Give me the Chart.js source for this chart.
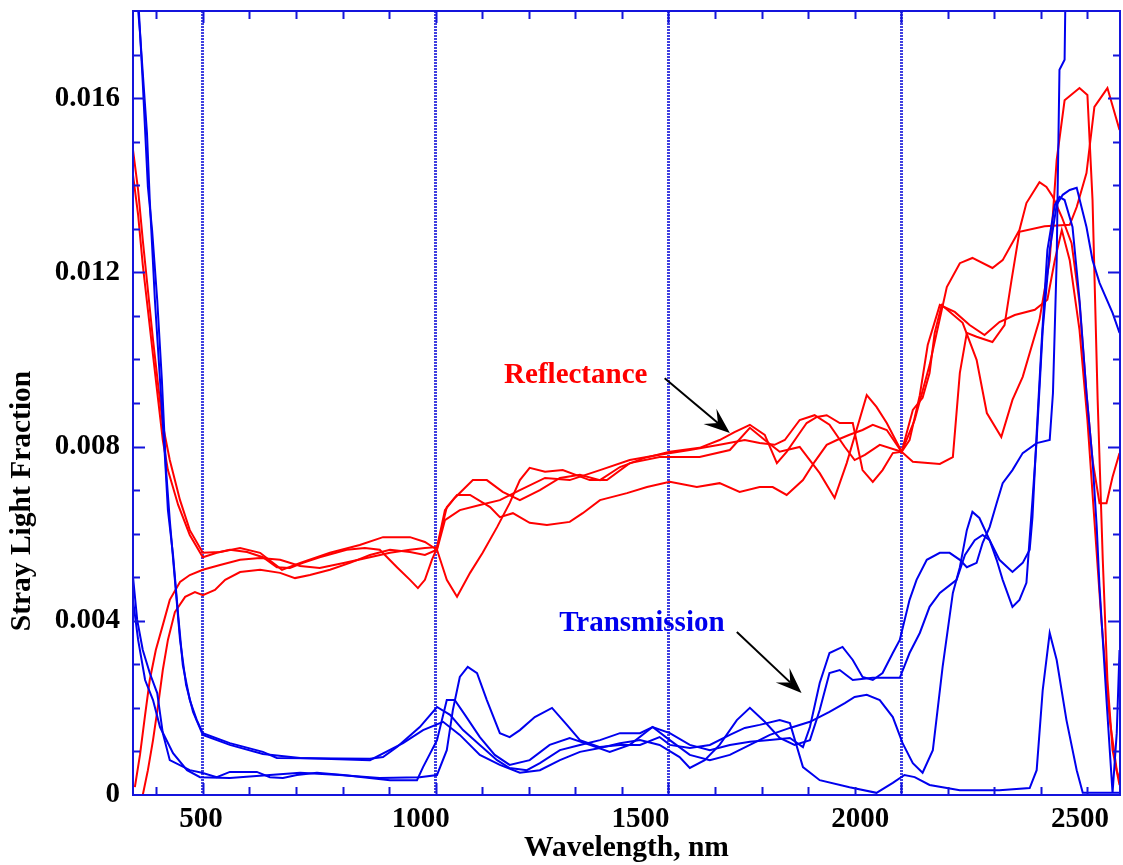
<!DOCTYPE html>
<html>
<head>
<meta charset="utf-8">
<script src="https://cdn.jsdelivr.net/npm/chart.js@4/dist/chart.umd.min.js"></script>
<style>
  html, body { margin: 0; padding: 0; background: #ffffff; }
  #wrap { width: 1123px; height: 865px; }
</style>
</head>
<body>
<div id="wrap"><canvas id="strayChart" width="1123" height="865"></canvas></div>
<script>
// Wavelength (nm) / stray light fraction pairs
const reflectance1 = [[350,0.01481],[361,0.01389],[371,0.01274],[382,0.01159],[393,0.01045],[404,0.00941],[414,0.0085],[429,0.00769],[451,0.00677],[472,0.00608],[500,0.00556],[537,0.00558],[580,0.00567],[623,0.00556],[670,0.00517],[709,0.00533],[773,0.00556],[837,0.00574],[887,0.00592],[945,0.00592],[977,0.00581],[1003,0.00563],[1024,0.00494],[1046,0.00455],[1074,0.0051],[1101,0.00556],[1132,0.00615],[1159,0.0067],[1181,0.00723],[1202,0.00751],[1235,0.00742],[1273,0.00746],[1331,0.00723],[1368,0.00723],[1417,0.00762],[1481,0.00776],[1567,0.00776],[1632,0.00792],[1675,0.00843],[1707,0.00815],[1739,0.00788],[1782,0.00799],[1825,0.00739],[1857,0.00682],[1883,0.00762],[1904,0.00838],[1926,0.00918],[1947,0.00891],[1969,0.00854],[2001,0.00788],[2025,0.00884],[2046,0.00912],[2061,0.00969],[2072,0.01061],[2087,0.01125],[2132,0.01084],[2162,0.00999],[2184,0.00877],[2215,0.00822],[2239,0.00907],[2261,0.0096],[2297,0.01091],[2319,0.01228],[2334,0.01458],[2351,0.01595],[2383,0.01623],[2400,0.01607],[2411,0.01366],[2422,0.00907],[2433,0.0054],[2443,0.00264],[2454,0.00103],[2469,0.00023]];

const reflectance2 = [[350,0.01424],[361,0.01332],[371,0.01217],[382,0.01114],[393,0.0101],[404,0.00907],[414,0.00815],[425,0.00746],[447,0.00666],[472,0.00597],[500,0.00546],[530,0.00556],[558,0.00563],[595,0.00558],[629,0.00546],[659,0.00523],[687,0.00521],[715,0.00533],[751,0.00546],[809,0.00563],[848,0.00567],[880,0.00563],[917,0.00523],[945,0.00494],[962,0.00475],[977,0.00494],[992,0.0054],[1003,0.00567],[1024,0.00661],[1046,0.00689],[1074,0.00689],[1117,0.00661],[1138,0.00638],[1166,0.00647],[1202,0.00625],[1239,0.0062],[1288,0.00627],[1316,0.00647],[1353,0.00677],[1411,0.00693],[1454,0.00707],[1503,0.00719],[1561,0.00707],[1610,0.00716],[1653,0.00696],[1696,0.00707],[1724,0.00707],[1754,0.00689],[1789,0.00723],[1814,0.00765],[1840,0.00804],[1862,0.00815],[1889,0.00827],[1917,0.00838],[1939,0.0085],[1969,0.00838],[2001,0.00788],[2029,0.00861],[2061,0.00987],[2098,0.01166],[2126,0.01221],[2153,0.01233],[2196,0.0121],[2218,0.01228],[2254,0.01297],[2269,0.01359],[2297,0.01407],[2312,0.01396],[2326,0.01373],[2345,0.01327],[2366,0.01267],[2383,0.0113],[2398,0.00923],[2411,0.00769],[2426,0.0067],[2441,0.0067],[2454,0.0073],[2469,0.00785]];

const reflectance3 = [[354,0.00018],[365,0.00092],[376,0.00184],[386,0.00264],[399,0.00333],[414,0.0039],[429,0.00448],[451,0.00489],[472,0.00505],[500,0.00517],[537,0.00528],[580,0.0054],[623,0.00544],[666,0.0054],[709,0.00526],[751,0.00521],[805,0.00533],[859,0.00546],[902,0.00556],[945,0.00563],[977,0.00567],[1003,0.00569],[1020,0.00654],[1041,0.00682],[1080,0.00723],[1110,0.00723],[1144,0.00696],[1181,0.00677],[1224,0.007],[1267,0.00728],[1310,0.00735],[1353,0.00723],[1396,0.00753],[1449,0.00774],[1503,0.00788],[1567,0.00797],[1610,0.00815],[1642,0.00833],[1675,0.0085],[1707,0.00827],[1733,0.00762],[1754,0.00788],[1776,0.00822],[1797,0.00854],[1819,0.00868],[1840,0.00872],[1868,0.00854],[1896,0.00854],[1917,0.00746],[1939,0.00719],[1960,0.00746],[1982,0.00785],[2001,0.00788],[2025,0.00765],[2083,0.0076],[2111,0.00776],[2126,0.00969],[2141,0.01061],[2162,0.01052],[2196,0.0104],[2222,0.01079],[2237,0.01182],[2254,0.01293],[2308,0.01306],[2362,0.01309],[2377,0.0135],[2398,0.01428],[2415,0.0158],[2443,0.01623],[2469,0.01527]];

const reflectance4 = [[371,0],[382,0.00057],[393,0.00126],[404,0.00207],[414,0.00287],[425,0.00356],[440,0.0042],[462,0.00455],[483,0.00466],[500,0.00459],[526,0.00471],[548,0.00494],[580,0.00512],[623,0.00517],[666,0.0051],[698,0.00498],[730,0.00505],[773,0.00517],[816,0.00533],[859,0.00551],[902,0.00563],[945,0.00558],[977,0.00551],[1003,0.00563],[1020,0.00631],[1052,0.00654],[1095,0.00666],[1138,0.00677],[1181,0.007],[1235,0.00728],[1288,0.00723],[1353,0.00746],[1417,0.00769],[1481,0.00781],[1546,0.00792],[1610,0.00804],[1664,0.00815],[1696,0.00808],[1728,0.00804],[1750,0.00815],[1782,0.00861],[1814,0.00872],[1846,0.0085],[1879,0.00799],[1900,0.00769],[1922,0.00781],[1954,0.00804],[2001,0.00788],[2018,0.00815],[2040,0.00918],[2057,0.01033],[2083,0.01125],[2115,0.01109],[2147,0.01079],[2179,0.01056],[2211,0.01086],[2244,0.01102],[2287,0.01114],[2314,0.01137],[2330,0.01228],[2345,0.01297],[2362,0.01228],[2383,0.01068],[2400,0.00861],[2415,0.00631],[2430,0.00402],[2448,0.00172],[2463,0.00057],[2469,0.00034]];

const transmission1 = [[350,0.0195],[365,0.0175],[380,0.0152],[386,0.01366],[397,0.01137],[408,0.00953],[419,0.00769],[425,0.00654],[436,0.00551],[447,0.00413],[457,0.00298],[472,0.00218],[487,0.00172],[500,0.00142],[558,0.00119],[629,0.00099],[659,0.00085],[859,0.00083],[887,0.00087],[917,0.0011],[966,0.00156],[1003,0.00202],[1031,0.00184],[1059,0.00149],[1095,0.00115],[1132,0.0008],[1159,0.00062],[1196,0.00057],[1224,0.00073],[1267,0.00103],[1310,0.00115],[1353,0.00126],[1396,0.00142],[1439,0.00142],[1466,0.00156],[1503,0.00142],[1546,0.00115],[1589,0.00103],[1632,0.00115],[1675,0.00122],[1718,0.00126],[1761,0.00131],[1789,0.0011],[1804,0.00156],[1825,0.00257],[1846,0.00326],[1874,0.0034],[1896,0.0031],[1917,0.00271],[1939,0.00264],[1960,0.0028],[1982,0.00326],[1997,0.00356],[2018,0.00448],[2033,0.00494],[2055,0.0054],[2083,0.00556],[2104,0.00556],[2126,0.0054],[2141,0.00523],[2162,0.00533],[2175,0.00579],[2190,0.00615],[2205,0.0067],[2218,0.00716],[2239,0.00746],[2261,0.00785],[2291,0.00808],[2319,0.00815],[2326,0.00923],[2330,0.01075],[2334,0.01228],[2336,0.01382],[2340,0.01665],[2351,0.01688],[2353,0.0185],[2400,0.02],[2469,0.02]];

const transmission2 = [[350,0.0205],[371,0.01635],[382,0.01396],[391,0.01297],[402,0.01137],[412,0.00953],[421,0.00746],[429,0.00631],[440,0.00494],[451,0.00356],[464,0.00253],[479,0.00191],[500,0.00138],[558,0.00115],[629,0.00094],[709,0.00085],[859,0.0008],[930,0.00119],[973,0.00149],[1016,0.00168],[1052,0.00138],[1095,0.00092],[1138,0.00069],[1181,0.00051],[1224,0.00057],[1267,0.0008],[1310,0.00099],[1353,0.00108],[1396,0.00119],[1439,0.00126],[1481,0.00115],[1524,0.00087],[1546,0.00062],[1578,0.0008],[1610,0.00115],[1647,0.00172],[1675,0.002],[1707,0.00168],[1739,0.00131],[1771,0.00115],[1804,0.00126],[1825,0.00195],[1846,0.0028],[1868,0.00287],[1896,0.00264],[1939,0.00269],[1997,0.00269],[2018,0.00326],[2040,0.00372],[2061,0.00432],[2083,0.00464],[2119,0.00494],[2137,0.00551],[2158,0.00585],[2175,0.00597],[2190,0.00585],[2205,0.0054],[2218,0.00494],[2239,0.00432],[2254,0.00448],[2269,0.00487],[2282,0.00677],[2291,0.00815],[2304,0.01068],[2319,0.01251],[2334,0.01355],[2347,0.01378],[2362,0.01389],[2377,0.01394],[2398,0.01304],[2411,0.01228],[2426,0.01176],[2454,0.01107],[2469,0.01061]];

const transmission3 = [[350,0.00501],[359,0.00402],[371,0.00333],[386,0.0028],[402,0.00234],[414,0.00142],[429,0.0008],[472,0.00057],[498,0.00051],[530,0.00041],[558,0.00053],[616,0.00053],[644,0.00041],[672,0.00039],[702,0.00046],[745,0.00051],[801,0.00046],[844,0.00041],[902,0.00034],[960,0.00034],[973,0.00064],[1003,0.00126],[1024,0.00218],[1041,0.00218],[1063,0.00184],[1095,0.00133],[1127,0.00092],[1159,0.00069],[1202,0.0008],[1245,0.00115],[1288,0.00131],[1331,0.00115],[1374,0.00099],[1417,0.00115],[1466,0.00156],[1503,0.00126],[1546,0.00092],[1589,0.0008],[1632,0.00092],[1675,0.00115],[1718,0.00138],[1761,0.00154],[1804,0.00168],[1846,0.00191],[1879,0.00211],[1900,0.00225],[1926,0.0023],[1954,0.00218],[1982,0.00179],[2003,0.00119],[2025,0.00073],[2046,0.00051],[2068,0.00103],[2089,0.00294],[2111,0.00464],[2126,0.00523],[2141,0.00608],[2153,0.0065],[2168,0.00636],[2190,0.00585],[2211,0.0054],[2239,0.00512],[2261,0.00533],[2276,0.00563],[2282,0.00638],[2291,0.00831],[2302,0.01045],[2314,0.01251],[2330,0.01355],[2340,0.01373],[2351,0.01366],[2368,0.01304],[2383,0.01137],[2398,0.00923],[2411,0.00769],[2420,0.00615],[2426,0.00478],[2441,0.00218],[2454,0.00005],[2463,0.00142],[2469,0.00333]];

const transmission4 = [[350,0.00448],[361,0.00356],[376,0.00264],[393,0.00218],[408,0.00156],[436,0.00096],[466,0.00057],[494,0.00041],[558,0.00039],[644,0.00046],[709,0.00051],[794,0.00046],[880,0.00039],[966,0.00041],[1003,0.00046],[1024,0.00103],[1037,0.00195],[1052,0.00271],[1069,0.00294],[1089,0.0028],[1110,0.00218],[1138,0.00142],[1159,0.00133],[1181,0.00149],[1213,0.00179],[1250,0.002],[1282,0.00161],[1310,0.00126],[1353,0.0011],[1396,0.00115],[1439,0.00115],[1481,0.00133],[1503,0.00115],[1546,0.00108],[1589,0.00115],[1632,0.00138],[1664,0.00154],[1696,0.00161],[1739,0.00172],[1761,0.00165],[1789,0.00064],[1825,0.00034],[1889,0.00018],[1947,0.00005],[1982,0.00028],[2007,0.00046],[2029,0.00041],[2061,0.00023],[2126,0.00011],[2211,0.00011],[2276,0.00016],[2291,0.00057],[2304,0.00241],[2319,0.00372],[2334,0.0031],[2355,0.00172],[2377,0.00057],[2390,0.00005],[2469,0.00005]];

// Axes
const xRange = [350, 2470];          // wavelength range of the plotted data
const xGridValues = [500, 1000, 1500, 2000];
const xTickLabels = [500, 1000, 1500, 2000, 2500];
const xLabelRange = [345, 2591];     // range of the printed wavelength labels
const yRange = [0, 0.018];
const yTickValues = [0, 0.004, 0.008, 0.012, 0.016];
const xMinorStep = 100;
const yMinorStep = 0.001;
const yTitle = 'Stray Light Fraction';
const yTitleAt = 0.00675;            // value at which the rotated title is centred

const RED = '#ff0000';
const BLUE = '#0000ee';
const AXIS_BLUE = '#1414dc';
const SERIF = '"Liberation Serif", "Times New Roman", serif';

function toPoints(pairs) {
    return pairs.map(p => ({ x: p[0], y: p[1] }));
}

function lineSet(label, pairs, color) {
    return {
        label: label,
        data: toPoints(pairs),
        borderColor: color,
        backgroundColor: color,
        borderWidth: 2,
        pointRadius: 0,
        tension: 0,
        fill: false,
        xAxisID: 'x',
        yAxisID: 'y'
    };
}

// Frame and inward tick marks on all four sides
const frameTicks = {
    id: 'frameTicks',
    afterDatasetsDraw(chart) {
        const { ctx, chartArea: a, scales } = chart;
        const xs = scales.x, ys = scales.y;
        ctx.save();
        ctx.strokeStyle = AXIS_BLUE;
        ctx.lineWidth = 2;
        ctx.beginPath();
        for (let v = 400; v <= 2400; v += xMinorStep) {
            const px = Math.round(xs.getPixelForValue(v)) + 0.5;
            const len = v % 500 === 0 ? 12 : 8;
            ctx.moveTo(px, a.bottom); ctx.lineTo(px, a.bottom - len);
            ctx.moveTo(px, a.top); ctx.lineTo(px, a.top + len);
        }
        for (let i = 1; i <= 17; i++) {
            const py = Math.round(ys.getPixelForValue(i * yMinorStep)) + 0.5;
            const len = i % 4 === 0 ? 12 : 7;
            ctx.moveTo(a.left, py); ctx.lineTo(a.left + len, py);
            ctx.moveTo(a.right, py); ctx.lineTo(a.right - len, py);
        }
        ctx.stroke();
        ctx.strokeRect(a.left, a.top, a.right - a.left, a.bottom - a.top);
        ctx.restore();
    }
};

// Text labels with arrows, placed in data coordinates
const notes = [
    { text: 'Reflectance', color: RED, at: [1301, 0.00962], from: [1492, 0.00957], to: [1632, 0.00831] },
    { text: 'Transmission', color: BLUE, at: [1443, 0.00393], from: [1647, 0.00374], to: [1786, 0.00234] }
];

function drawArrow(ctx, x1, y1, x2, y2) {
    const dx = x2 - x1, dy = y2 - y1;
    const d = Math.sqrt(dx * dx + dy * dy);
    const ux = dx / d, uy = dy / d;
    const nx = -uy, ny = ux;
    const L = 26, W = 10;
    ctx.beginPath();
    ctx.moveTo(x1, y1);
    ctx.lineTo(x2 - ux * L * 0.6, y2 - uy * L * 0.6);
    ctx.stroke();
    ctx.beginPath();
    ctx.moveTo(x2, y2);
    ctx.lineTo(x2 - ux * L + nx * W, y2 - uy * L + ny * W);
    ctx.lineTo(x2 - ux * L * 0.6, y2 - uy * L * 0.6);
    ctx.lineTo(x2 - ux * L - nx * W, y2 - uy * L - ny * W);
    ctx.closePath();
    ctx.fill();
}

const annotations = {
    id: 'annotations',
    afterDraw(chart) {
        const { ctx, scales } = chart;
        const xs = scales.x, ys = scales.y;
        ctx.save();
        notes.forEach(n => {
            ctx.font = 'bold 29px ' + SERIF;
            ctx.fillStyle = n.color;
            ctx.textAlign = 'center';
            ctx.textBaseline = 'middle';
            ctx.fillText(n.text, xs.getPixelForValue(n.at[0]), ys.getPixelForValue(n.at[1]));
            ctx.strokeStyle = '#000000';
            ctx.fillStyle = '#000000';
            ctx.lineWidth = 2;
            drawArrow(ctx,
                xs.getPixelForValue(n.from[0]), ys.getPixelForValue(n.from[1]),
                xs.getPixelForValue(n.to[0]), ys.getPixelForValue(n.to[1]));
        });
        // rotated y axis title
        ctx.translate(ys.left + 22, ys.getPixelForValue(yTitleAt));
        ctx.rotate(-Math.PI / 2);
        ctx.font = 'bold 29.5px ' + SERIF;
        ctx.fillStyle = '#000000';
        ctx.textAlign = 'center';
        ctx.textBaseline = 'middle';
        ctx.fillText(yTitle, 0, 0);
        ctx.restore();
    }
};

document.addEventListener('DOMContentLoaded', function() {
    const ctx = document.getElementById('strayChart');

    new Chart(ctx, {
        type: 'line',
        data: {
            datasets: [
                lineSet('Transmission 1', transmission1, BLUE),
                lineSet('Transmission 2', transmission2, BLUE),
                lineSet('Transmission 3', transmission3, BLUE),
                lineSet('Transmission 4', transmission4, BLUE),
                lineSet('Reflectance 1', reflectance1, RED),
                lineSet('Reflectance 2', reflectance2, RED),
                lineSet('Reflectance 3', reflectance3, RED),
                lineSet('Reflectance 4', reflectance4, RED)
            ]
        },
        options: {
            responsive: false,
            animation: false,
            events: [],
            layout: { autoPadding: false, padding: { top: 11, right: 3, left: 0, bottom: 0 } },
            plugins: {
                legend: { display: false },
                tooltip: { enabled: false }
            },
            scales: {
                x: {
                    type: 'linear',
                    position: 'bottom',
                    min: xRange[0],
                    max: xRange[1],
                    afterBuildTicks: s => { s.ticks = xGridValues.map(v => ({ value: v })); },
                    afterFit: s => { s.height = 0; s.paddingLeft = 0; s.paddingRight = 0; },
                    ticks: { display: false },
                    grid: { display: true, drawTicks: false, color: '#4040e0', lineWidth: 3 },
                    border: { display: false, dash: [2, 1] }
                },
                xLabels: {
                    type: 'linear',
                    position: 'bottom',
                    min: xLabelRange[0],
                    max: xLabelRange[1],
                    afterBuildTicks: s => { s.ticks = xTickLabels.map(v => ({ value: v })); },
                    afterFit: s => { s.height = 70; s.paddingLeft = 0; s.paddingRight = 0; },
                    grid: { display: false, drawTicks: false },
                    border: { display: false },
                    ticks: {
                        padding: 7,
                        color: '#000000',
                        font: { family: SERIF, size: 29, weight: 'bold' },
                        callback: v => String(v)
                    },
                    title: {
                        display: true,
                        text: 'Wavelength, nm',
                        color: '#000000',
                        padding: { top: 0, bottom: 2 },
                        font: { family: SERIF, size: 29.5, weight: 'bold', lineHeight: 1 }
                    }
                },
                y: {
                    type: 'linear',
                    position: 'left',
                    min: yRange[0],
                    max: yRange[1],
                    afterBuildTicks: s => { s.ticks = yTickValues.map(v => ({ value: v })); },
                    afterFit: s => { s.width = 133; s.paddingTop = 0; s.paddingBottom = 0; },
                    grid: { display: false, drawTicks: false },
                    border: { display: false },
                    ticks: {
                        padding: 13,
                        color: '#000000',
                        font: { family: SERIF, size: 29, weight: 'bold' },
                        callback: v => v === 0 ? '0' : v.toFixed(3)
                    },
                    title: { display: false }
                }
            }
        },
        plugins: [frameTicks, annotations]
    });
});
</script>
</body>
</html>
